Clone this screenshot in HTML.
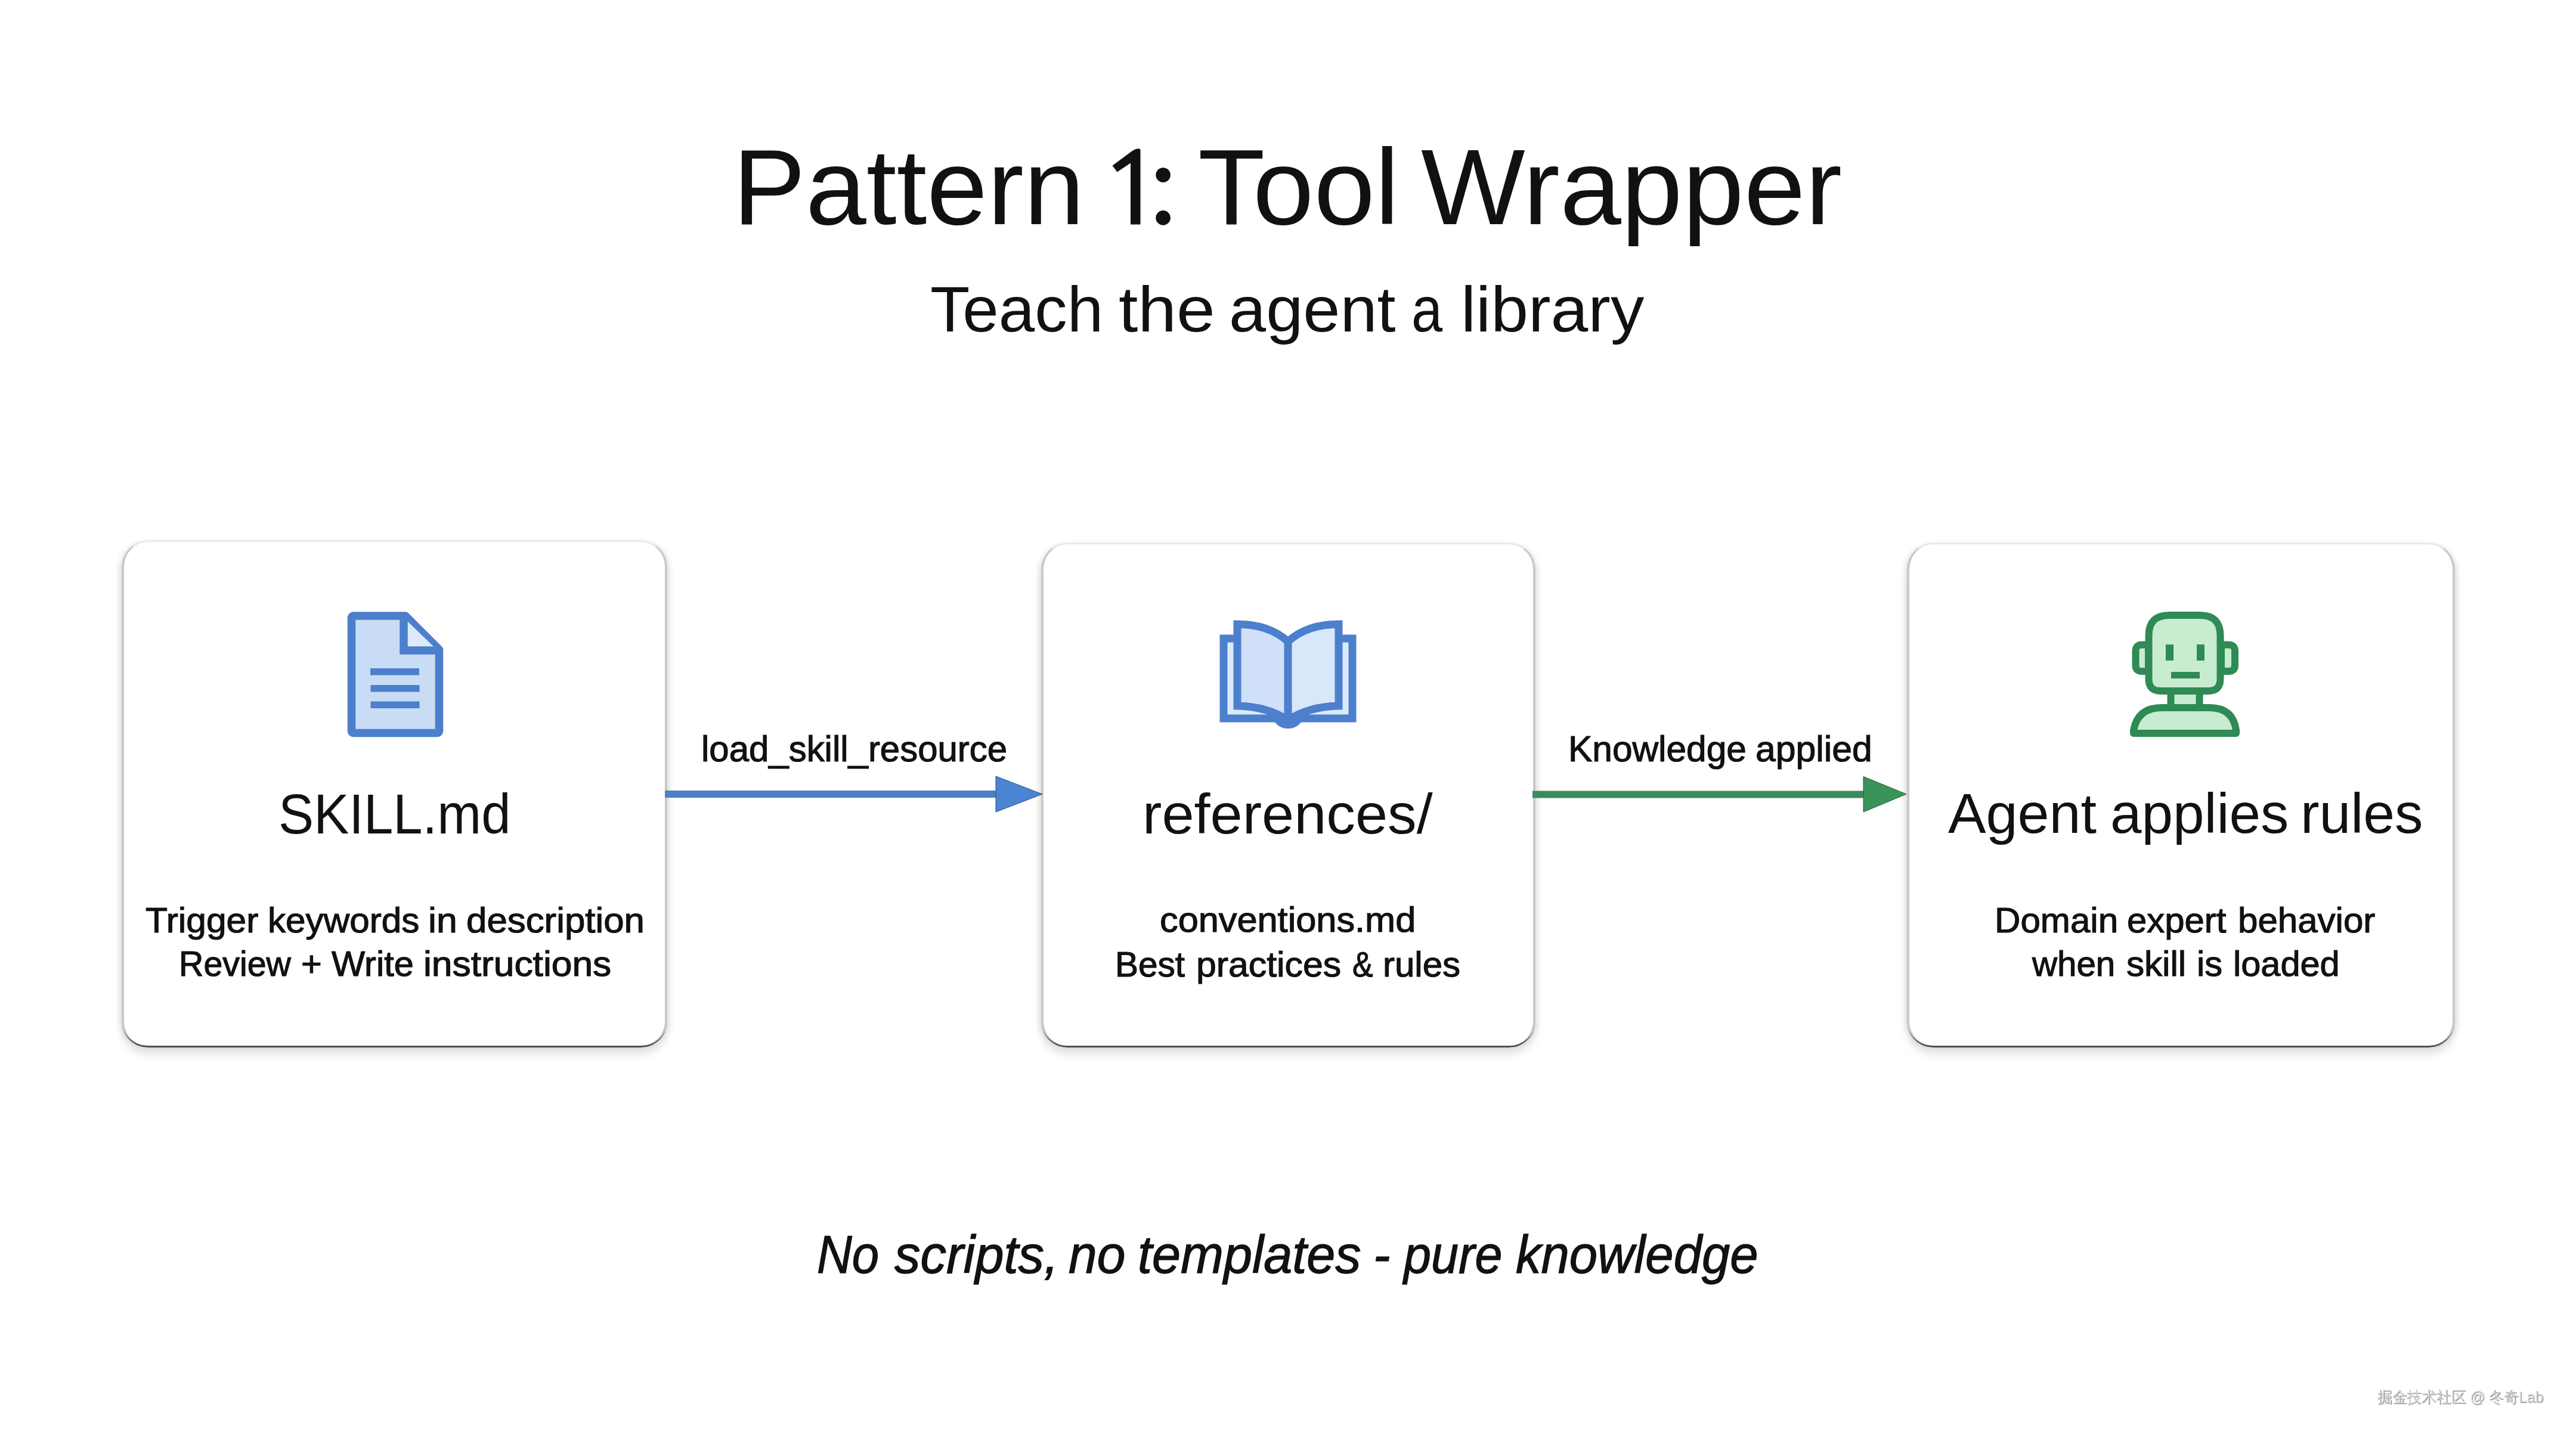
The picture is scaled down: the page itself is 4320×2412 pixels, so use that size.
<!DOCTYPE html>
<html><head><meta charset="utf-8"><style>
html,body{margin:0;padding:0;background:#fff;}
body{width:4320px;height:2412px;position:relative;overflow:hidden;font-family:"Liberation Sans",sans-serif;color:#111;}
.t{position:absolute;white-space:nowrap;line-height:1;transform-origin:0 0;}
.card{position:absolute;box-sizing:border-box;background:#fff;border-radius:44px;border:4px solid #c9c9c9;border-top:2px solid #e6e6e6;border-bottom:3px solid #c9c9c9;box-shadow:0 11px 15px rgba(0,0,0,0.12),-5px 0 6px rgba(0,0,0,0.05),5px 0 6px rgba(0,0,0,0.05);}
.card::after{content:"";position:absolute;left:-4px;right:-4px;top:-2px;bottom:-3px;border-radius:44px;border-bottom:3px solid #505050;-webkit-mask-image:linear-gradient(to top,#000 0,#000 22px,transparent 48px);mask-image:linear-gradient(to top,#000 0,#000 22px,transparent 48px);}
.ov{position:absolute;left:0;top:0;}
.wm{position:absolute;left:3987px;top:2330px;font-size:26px;line-height:26px;color:#d8d8d8;white-space:nowrap;text-shadow:1px 1px 1px #777;transform:scaleX(0.952);transform-origin:0 0;}
</style></head><body>

<div class="card" style="left:204px;top:907px;width:915px;height:850px"></div>
<div class="card" style="left:1746px;top:911px;width:829px;height:846px"></div>
<div class="card" style="left:3198px;top:911px;width:919px;height:846px"></div>


<svg class="ov" width="4320" height="2412" viewBox="0 0 4320 2412">
 <!-- title "1:" -->
 <path d="M1912.5,252 L1912.5,376.6 L1896,376.6 L1896,273.5 L1873.5,288.5 L1865.6,277.8 L1899,253 Q1904,249.3 1909,249.3 Q1912.5,249.3 1912.5,252 Z" fill="#111"/>
 <circle cx="1950.6" cy="293.5" r="12.3" fill="#111"/>
 <circle cx="1950.6" cy="365.4" r="12.3" fill="#111"/>
 <!-- arrow 1 -->
 <rect x="1115" y="1326" width="560" height="12" fill="#4a80c6"/>
 <polygon points="1670,1302 1748,1332 1670,1362" fill="#4a84d2" stroke="#2f4f7a" stroke-width="1"/>
 <!-- arrow 2 -->
 <rect x="2570" y="1326.5" width="560" height="12" fill="#3a8c5c"/>
 <polygon points="3125,1302.5 3197,1332 3125,1362" fill="#3b9457" stroke="#245c3a" stroke-width="1"/>
 <!-- doc icon -->
 <g stroke="#4c7fcc" stroke-width="13.5" stroke-linejoin="round" fill="#c9dcf6">
  <path d="M589.5,1037 Q589.5,1033 593.5,1033 L680,1033 L736.5,1089.5 L736.5,1225.5 Q736.5,1229.5 732.5,1229.5 L593.5,1229.5 Q589.5,1229.5 589.5,1225.5 Z"/>
  <path d="M677,1036 L677,1091 L734,1091" fill="#ddeafa" stroke-linejoin="miter"/>
 </g>
 <g fill="#4a80cc">
  <rect x="621" y="1121" width="82" height="11.5"/>
  <rect x="621.5" y="1149" width="82" height="11.5"/>
  <rect x="621.5" y="1176.5" width="82" height="11.5"/>
 </g>
 <!-- book icon -->
 <path d="M2052,1071 L2075,1071 L2075,1100 L2245,1100 L2245,1071 L2268,1071 L2268,1205 L2052,1205 Z" fill="#dbeafa"/>
 <path d="M2075,1071 L2052,1071 L2052,1205 L2268,1205 L2268,1071 L2245,1071" fill="none" stroke="#4c7fcc" stroke-width="13" stroke-linejoin="miter"/>
 <path d="M2075,1047 Q2128,1047 2160,1076 L2160,1208 Q2125,1185 2075,1184 Z" fill="#cfe0f8"/>
 <path d="M2245,1047 Q2192,1047 2160,1076 L2160,1208 Q2195,1185 2245,1184 Z" fill="#d6e8fa"/>
 <path d="M2075,1047 Q2128,1047 2160,1076 Q2192,1047 2245,1047 L2245,1184 Q2195,1185 2160,1208 Q2125,1185 2075,1184 Z M2160,1076 L2160,1208" fill="none" stroke="#4c7fcc" stroke-width="13" stroke-linejoin="miter" stroke-miterlimit="10"/>
 <path d="M2132,1200 Q2140,1222 2160,1222 Q2180,1222 2188,1200 Z" fill="#4c7fcc"/>
 <!-- robot icon -->
 <g stroke="#2f8a55" stroke-width="12" stroke-linejoin="round" fill="#c8eccf">
  <path d="M3581.5,1092 Q3581.5,1081.5 3592,1081.5 L3603,1081.5 L3603,1126 L3592,1126 Q3581.5,1126 3581.5,1116 Z"/>
  <path d="M3748,1092 Q3748,1081.5 3737,1081.5 L3725,1081.5 L3725,1126 L3737,1126 Q3748,1126 3748,1116 Z"/>
  <rect x="3640.5" y="1155" width="48" height="33"/>
  <path d="M3603.5,1066 Q3603.5,1032 3637.5,1032 L3689.5,1032 Q3723.5,1032 3723.5,1066 L3723.5,1139 Q3723.5,1159 3703.5,1159 L3623.5,1159 Q3603.5,1159 3603.5,1139 Z"/>
  <path d="M3578,1230 L3578,1225 Q3585,1187 3625,1187 L3705,1187 Q3745,1187 3750,1225 L3750,1230 Z"/>
 </g>
 <g fill="#2f8a55">
  <rect x="3632" y="1081" width="13" height="27"/>
  <rect x="3684" y="1081" width="13" height="27"/>
  <rect x="3641" y="1127" width="48" height="11"/>
 </g>
</svg>

<div class="t" style="left:1229.45px;top:223.69px;font-size:180.60px;font-style:normal;transform:scaleX(1.0126);-webkit-text-stroke:0px #111">Pattern</div>
<div class="t" style="left:2009.24px;top:223.69px;font-size:180.60px;font-style:normal;transform:scaleX(1.0194);-webkit-text-stroke:0px #111">Tool</div>
<div class="t" style="left:2382.95px;top:223.69px;font-size:180.60px;font-style:normal;transform:scaleX(1.0246);-webkit-text-stroke:0px #111">Wrapper</div>
<div class="t" style="left:1560.03px;top:465.10px;font-size:108.30px;font-style:normal;transform:scaleX(1.0040);-webkit-text-stroke:0px #111">Teach</div>
<div class="t" style="left:1876.28px;top:465.10px;font-size:108.30px;font-style:normal;transform:scaleX(1.0749);-webkit-text-stroke:0px #111">the</div>
<div class="t" style="left:2060.92px;top:465.10px;font-size:108.30px;font-style:normal;transform:scaleX(1.0317);-webkit-text-stroke:0px #111">agent</div>
<div class="t" style="left:2366.66px;top:465.10px;font-size:108.30px;font-style:normal;transform:scaleX(0.8653);-webkit-text-stroke:0px #111">a</div>
<div class="t" style="left:2449.73px;top:465.10px;font-size:108.30px;font-style:normal;transform:scaleX(1.0424);-webkit-text-stroke:0px #111">library</div>
<div class="t" style="left:467.47px;top:1318.19px;font-size:94.50px;font-style:normal;transform:scaleX(0.9386);-webkit-text-stroke:0px #111">SKILL.md</div>
<div class="t" style="left:244.09px;top:1513.92px;font-size:59.50px;font-style:normal;transform:scaleX(1.0166);-webkit-text-stroke:1.2px #111">Trigger</div>
<div class="t" style="left:448.78px;top:1513.92px;font-size:59.50px;font-style:normal;transform:scaleX(1.0122);-webkit-text-stroke:1.2px #111">keywords</div>
<div class="t" style="left:718.11px;top:1513.92px;font-size:59.50px;font-style:normal;transform:scaleX(1.0513);-webkit-text-stroke:1.2px #111">in</div>
<div class="t" style="left:781.70px;top:1513.92px;font-size:59.50px;font-style:normal;transform:scaleX(1.0390);-webkit-text-stroke:1.2px #111">description</div>
<div class="t" style="left:300.15px;top:1586.62px;font-size:59.50px;font-style:normal;transform:scaleX(0.9635);-webkit-text-stroke:1.2px #111">Review</div>
<div class="t" style="left:505.28px;top:1586.62px;font-size:59.50px;font-style:normal;transform:scaleX(1.0012);-webkit-text-stroke:1.2px #111">+</div>
<div class="t" style="left:556.00px;top:1586.62px;font-size:59.50px;font-style:normal;transform:scaleX(1.0002);-webkit-text-stroke:1.2px #111">Write</div>
<div class="t" style="left:709.67px;top:1586.62px;font-size:59.50px;font-style:normal;transform:scaleX(1.0475);-webkit-text-stroke:1.2px #111">instructions</div>
<div class="t" style="left:1176.14px;top:1226.35px;font-size:61.00px;font-style:normal;transform:scaleX(0.9826);-webkit-text-stroke:1.2px #111">load_skill_resource</div>
<div class="t" style="left:2630.02px;top:1226.35px;font-size:61.00px;font-style:normal;transform:scaleX(0.9902);-webkit-text-stroke:1.2px #111">Knowledge</div>
<div class="t" style="left:2943.61px;top:1226.35px;font-size:61.00px;font-style:normal;transform:scaleX(0.9948);-webkit-text-stroke:1.2px #111">applied</div>
<div class="t" style="left:1915.55px;top:1317.79px;font-size:94.50px;font-style:normal;transform:scaleX(1.0297);-webkit-text-stroke:0px #111">references/</div>
<div class="t" style="left:1944.63px;top:1513.42px;font-size:59.50px;font-style:normal;transform:scaleX(1.0300);-webkit-text-stroke:1.2px #111">conventions.md</div>
<div class="t" style="left:1869.60px;top:1587.92px;font-size:59.50px;font-style:normal;transform:scaleX(0.9829);-webkit-text-stroke:1.2px #111">Best</div>
<div class="t" style="left:2005.94px;top:1587.92px;font-size:59.50px;font-style:normal;transform:scaleX(1.0215);-webkit-text-stroke:1.2px #111">practices</div>
<div class="t" style="left:2267.74px;top:1587.92px;font-size:59.50px;font-style:normal;transform:scaleX(0.8694);-webkit-text-stroke:1.2px #111">&amp;</div>
<div class="t" style="left:2318.96px;top:1587.92px;font-size:59.50px;font-style:normal;transform:scaleX(1.0081);-webkit-text-stroke:1.2px #111">rules</div>
<div class="t" style="left:3267.19px;top:1317.19px;font-size:94.50px;font-style:normal;transform:scaleX(1.0084);-webkit-text-stroke:0px #111">Agent</div>
<div class="t" style="left:3538.97px;top:1317.19px;font-size:94.50px;font-style:normal;transform:scaleX(0.9987);-webkit-text-stroke:0px #111">applies</div>
<div class="t" style="left:3858.31px;top:1317.19px;font-size:94.50px;font-style:normal;transform:scaleX(1.0027);-webkit-text-stroke:0px #111">rules</div>
<div class="t" style="left:3344.94px;top:1514.32px;font-size:59.50px;font-style:normal;transform:scaleX(1.0101);-webkit-text-stroke:1.2px #111">Domain</div>
<div class="t" style="left:3567.49px;top:1514.32px;font-size:59.50px;font-style:normal;transform:scaleX(1.0061);-webkit-text-stroke:1.2px #111">expert</div>
<div class="t" style="left:3752.56px;top:1514.32px;font-size:59.50px;font-style:normal;transform:scaleX(1.0090);-webkit-text-stroke:1.2px #111">behavior</div>
<div class="t" style="left:3407.98px;top:1587.42px;font-size:59.50px;font-style:normal;transform:scaleX(0.9787);-webkit-text-stroke:1.2px #111">when</div>
<div class="t" style="left:3565.77px;top:1587.42px;font-size:59.50px;font-style:normal;transform:scaleX(1.0105);-webkit-text-stroke:1.2px #111">skill</div>
<div class="t" style="left:3683.96px;top:1587.42px;font-size:59.50px;font-style:normal;transform:scaleX(1.0006);-webkit-text-stroke:1.2px #111">is</div>
<div class="t" style="left:3744.68px;top:1587.42px;font-size:59.50px;font-style:normal;transform:scaleX(0.9998);-webkit-text-stroke:1.2px #111">loaded</div>
<div class="t" style="left:1369.91px;top:2060.45px;font-size:89.00px;font-style:italic;transform:scaleX(0.9149);-webkit-text-stroke:1.3px #111">No</div>
<div class="t" style="left:1499.76px;top:2060.45px;font-size:89.00px;font-style:italic;transform:scaleX(0.9763);-webkit-text-stroke:1.3px #111">scripts,</div>
<div class="t" style="left:1792.20px;top:2060.45px;font-size:89.00px;font-style:italic;transform:scaleX(0.9627);-webkit-text-stroke:1.3px #111">no</div>
<div class="t" style="left:1908.10px;top:2060.45px;font-size:89.00px;font-style:italic;transform:scaleX(0.9705);-webkit-text-stroke:1.3px #111">templates</div>
<div class="t" style="left:2302.67px;top:2060.45px;font-size:89.00px;font-style:italic;transform:scaleX(0.9574);-webkit-text-stroke:1.3px #111">-</div>
<div class="t" style="left:2353.72px;top:2060.45px;font-size:89.00px;font-style:italic;transform:scaleX(0.9289);-webkit-text-stroke:1.3px #111">pure</div>
<div class="t" style="left:2542.39px;top:2060.45px;font-size:89.00px;font-style:italic;transform:scaleX(0.9552);-webkit-text-stroke:1.3px #111">knowledge</div>
<div class="wm">掘金技术社区 @ 冬奇Lab</div>
</body></html>
